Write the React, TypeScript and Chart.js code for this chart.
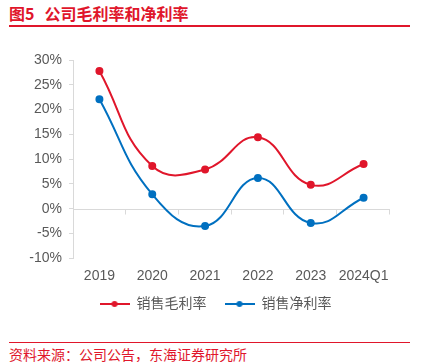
import React, { useEffect, useRef } from "react";
import { Chart, registerables } from "chart.js";

Chart.register(...registerables);

const categories = ["2019", "2020", "2021", "2022", "2023", "2024Q1"];
const grossMargin = [27.8, 8.6, 7.9, 14.4, 4.8, 9.0];
const netMargin = [22.1, 2.9, -3.5, 6.2, -2.9, 2.2];
const seriesNames = ["销售毛利率", "销售净利率"];
const yMin = -10;
const yMax = 30;
const yStep = 5;

const RED = "#E0162B";
const BLUE = "#0070C0";
const GREY_TEXT = "#595959";
const AXIS = "#D9D9D9";
const LATIN = "'Liberation Sans', Arial, sans-serif";
const CJK = "'Liberation Sans', 'Noto Sans CJK SC', sans-serif";
const LEGEND_LIFT = 16;

function legendIcon(color: string) {
  const c = document.createElement("canvas");
  c.width = 30;
  c.height = 8;
  const ctx = c.getContext("2d")!;
  ctx.strokeStyle = color;
  ctx.lineWidth = 2;
  ctx.beginPath();
  ctx.moveTo(0, 4);
  ctx.lineTo(30, 4);
  ctx.stroke();
  ctx.fillStyle = color;
  ctx.beginPath();
  ctx.arc(15, 4, 3, 0, Math.PI * 2);
  ctx.fill();
  return c;
}

const zeroLinePlugin = {
  id: "zeroLine",
  beforeDatasetsDraw(chart: any) {
    const { ctx, chartArea, scales } = chart;
    const y = Math.round(scales.y.getPixelForValue(0)) + 0.5;
    ctx.save();
    ctx.strokeStyle = AXIS;
    ctx.lineWidth = 1;
    ctx.beginPath();
    ctx.moveTo(chartArea.left, y);
    ctx.lineTo(chartArea.right, y);
    const n = categories.length;
    const w = (chartArea.right - chartArea.left) / n;
    for (let k = 1; k <= n; k++) {
      const x = Math.round(chartArea.left + k * w) - 0.5;
      ctx.moveTo(x, y);
      ctx.lineTo(x, y + 5);
    }
    ctx.stroke();
    ctx.restore();
  },
};

const legendLiftPlugin = {
  id: "legendLift",
  beforeLayout(chart: any) {
    const lg = chart.legend;
    if (!lg || lg.__wrapped) return;
    const fit = lg.fit.bind(lg);
    lg.fit = function () {
      fit();
      this.height = Math.max(0, this.height - LEGEND_LIFT);
    };
    lg.__wrapped = true;
  },
  afterLayout(chart: any) {
    const lg = chart.legend;
    if (!lg) return;
    lg.top -= LEGEND_LIFT;
  },
};

export default function App() {
  const ref = useRef<HTMLCanvasElement>(null);

  useEffect(() => {
    document.body.style.margin = "0";
    const icons = [legendIcon(RED), legendIcon(BLUE)];
    const chart = new Chart(ref.current!, {
      type: "line",
      data: {
        labels: categories,
        datasets: [
          {
            label: seriesNames[0],
            data: grossMargin,
            borderColor: RED,
            backgroundColor: RED,
            borderWidth: 2,
            pointRadius: 3,
            pointHoverRadius: 3,
            tension: 0.45,
          },
          {
            label: seriesNames[1],
            data: netMargin,
            borderColor: BLUE,
            backgroundColor: BLUE,
            borderWidth: 2,
            pointRadius: 3,
            pointHoverRadius: 3,
            tension: 0.45,
          },
        ],
      },
      options: {
        animation: false,
        responsive: false,
        maintainAspectRatio: false,
        layout: { padding: { left: 9, right: 0, top: 30, bottom: 14 } },
        plugins: {
          tooltip: { enabled: false },
          title: { display: false },
          legend: {
            position: "bottom",
            labels: {
              usePointStyle: true,
              pointStyleWidth: 30,
              boxHeight: 8,
              padding: 18,
              color: GREY_TEXT,
              font: { size: 14, family: CJK },
              generateLabels: (c: any) => {
                const items = Chart.defaults.plugins.legend.labels.generateLabels(c);
                return items.map((it: any, i: number) => ({ ...it, pointStyle: icons[i] }));
              },
            },
          },
        },
        scales: {
          x: {
            offset: true,
            grid: { display: false, drawTicks: false },
            border: { display: false },
            ticks: {
              color: GREY_TEXT,
              font: { size: 14, family: LATIN },
              padding: 10,
              maxRotation: 0,
              autoSkip: false,
            },
          },
          y: {
            min: yMin,
            max: yMax,
            afterFit: (s: any) => {
              s.width = 64;
            },
            grid: {
              display: true,
              drawOnChartArea: false,
              drawTicks: true,
              tickLength: 4,
              color: AXIS,
            },
            border: { display: true, color: AXIS, width: 1 },
            ticks: {
              stepSize: yStep,
              color: GREY_TEXT,
              font: { size: 14, family: LATIN },
              padding: 7,
              callback: (v: any) => `${v}%`,
            },
          },
          y2: {
            position: "right",
            display: true,
            afterFit: (s: any) => {
              s.width = 32;
            },
            grid: { display: false, drawTicks: false },
            border: { display: false },
            ticks: { display: false },
          },
        },
      },
      plugins: [zeroLinePlugin, legendLiftPlugin],
    } as any);
    return () => chart.destroy();
  }, []);

  return (
    <div style={{ position: "relative", width: 422, height: 362, background: "#fff", overflow: "hidden" }}>
      <div
        style={{
          position: "absolute",
          left: 9,
          top: 2,
          fontFamily: "'Noto Sans CJK SC', sans-serif",
          fontWeight: 700,
          fontSize: 16,
          lineHeight: "22px",
          color: RED,
          whiteSpace: "nowrap",
        }}
      >
        <span>图5</span>
        <span style={{ marginLeft: 10 }}>公司毛利率和净利率</span>
      </div>
      <div style={{ position: "absolute", left: 9, top: 25, width: 401, height: 2, background: RED }} />
      <canvas ref={ref} width={422} height={305} style={{ position: "absolute", left: 0, top: 30 }} />
      <div style={{ position: "absolute", left: 9, top: 342, width: 401, height: 1, background: RED }} />
      <div
        style={{
          position: "absolute",
          left: 9,
          top: 344,
          fontFamily: "'Noto Sans CJK SC', sans-serif",
          fontSize: 14,
          lineHeight: "20px",
          color: RED,
          whiteSpace: "nowrap",
        }}
      >
        资料来源：公司公告，东海证券研究所
      </div>
    </div>
  );
}
